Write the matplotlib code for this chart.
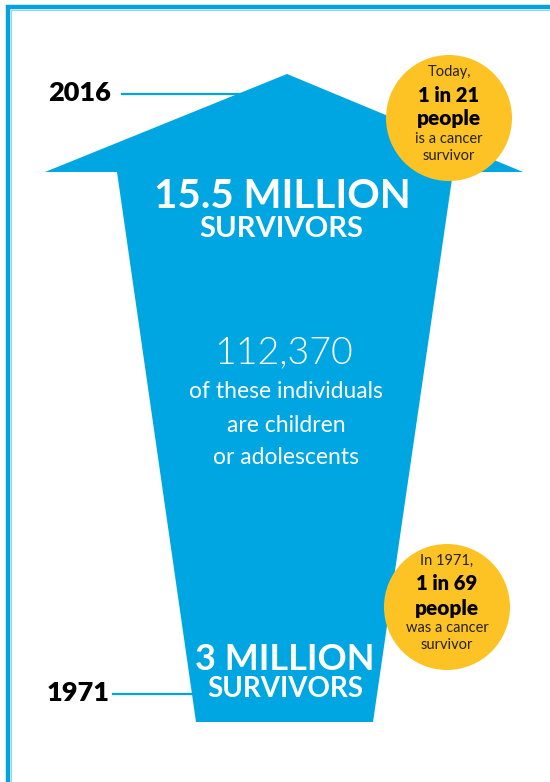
import matplotlib.pyplot as plt
from matplotlib.patches import Polygon, Circle

# values shown in the graphic
years = ["2016", "1971"]
survivors = ["15.5 MILLION", "3 MILLION"]
young_survivors = "112,370"
young_text = ["of these individuals", "are children", "or adolescents"]
ratio_intro = ["Today,", "In 1971,"]
ratios = ["1 in 21", "1 in 69"]
ratio_verb = ["is a cancer", "was a cancer"]

blue = '#00a6e2'
yellow = '#fdc324'

W, H = 550, 782
fig = plt.figure(figsize=(W / 100, H / 100), dpi=100)
ax = fig.add_axes([0, 0, 1, 1])
ax.set_xlim(0, W)
ax.set_ylim(H, 0)
ax.axis('off')

# frame (top and left edge only)
ax.plot([8, 8, W], [H, 7, 7], color='#00a3df', lw=3.2, solid_capstyle='butt',
        solid_joinstyle='miter', zorder=1)
ax.plot([10.5, 10.5, W], [H, 9.5, 9.5], color='#8fd6f2', lw=0.8, zorder=1)

# year guide lines (drawn behind the arrow)
ax.plot([122, 245], [94, 94], color=blue, lw=1.6, zorder=1)
ax.plot([113, 200], [694, 694], color=blue, lw=1.6, zorder=1)

# arrow
cx = 285
tip_y, head_y, base_y = 74, 172, 722
arrow = [(cx + 2, tip_y), (cx + 238, head_y), (cx + 168, head_y),
         (cx + 88, base_y), (cx - 89, base_y), (cx - 168, head_y),
         (cx - 240, head_y)]
ax.add_patch(Polygon(arrow, closed=True, facecolor=blue, edgecolor='none', zorder=2))

bold = dict(family='Lato', fontweight='bold', ha='center', va='center')
heavy = dict(family='Lato', fontweight='heavy', va='center')

ax.text(48, 93, years[0], fontsize=19.5, color='black', zorder=3,
        ha='left', **heavy)
ax.text(47, 693, years[1], fontsize=19.5, color='black', zorder=3,
        ha='left', **heavy)

ax.text(cx - 3, 196, survivors[0], fontsize=29, color='white', zorder=3, **bold)
ax.text(cx - 4, 229, "SURVIVORS", fontsize=21, color='white', zorder=3, **bold)

ax.text(cx - 1, 353, young_survivors, fontsize=27, color='white', family='Lato',
        fontweight=300, ha='center', va='center', zorder=3)
for i, line in enumerate(young_text):
    ax.text(cx + 1, 392 + i * 33, line, fontsize=16.5, color='white', family='Lato',
            ha='center', va='center', zorder=3)

ax.text(cx, 659, survivors[1], fontsize=26, color='white', zorder=3, **bold)
ax.text(cx, 689, "SURVIVORS", fontsize=20, color='white', zorder=3, **bold)

# yellow callouts
circles = [(449, 118), (447, 607)]
for k, (x0, y0) in enumerate(circles):
    ax.add_patch(Circle((x0, y0), 63, facecolor=yellow, edgecolor='none', zorder=4))
    ax.text(x0, y0 - 46, ratio_intro[k], fontsize=10.5, color='#222222',
            family='Lato', ha='center', va='center', zorder=5)
    ax.text(x0, y0 - 23, ratios[k], fontsize=14.5, color='black', zorder=5,
            ha='center', **heavy)
    ax.text(x0, y0 + 1, "people", fontsize=15, color='black', zorder=5,
            ha='center', **heavy)
    ax.text(x0, y0 + 21, ratio_verb[k], fontsize=10.5, color='#222222',
            family='Lato', ha='center', va='center', zorder=5)
    ax.text(x0, y0 + 38, "survivor", fontsize=10.5, color='#222222',
            family='Lato', ha='center', va='center', zorder=5)

fig.savefig('out.png', dpi=100)
